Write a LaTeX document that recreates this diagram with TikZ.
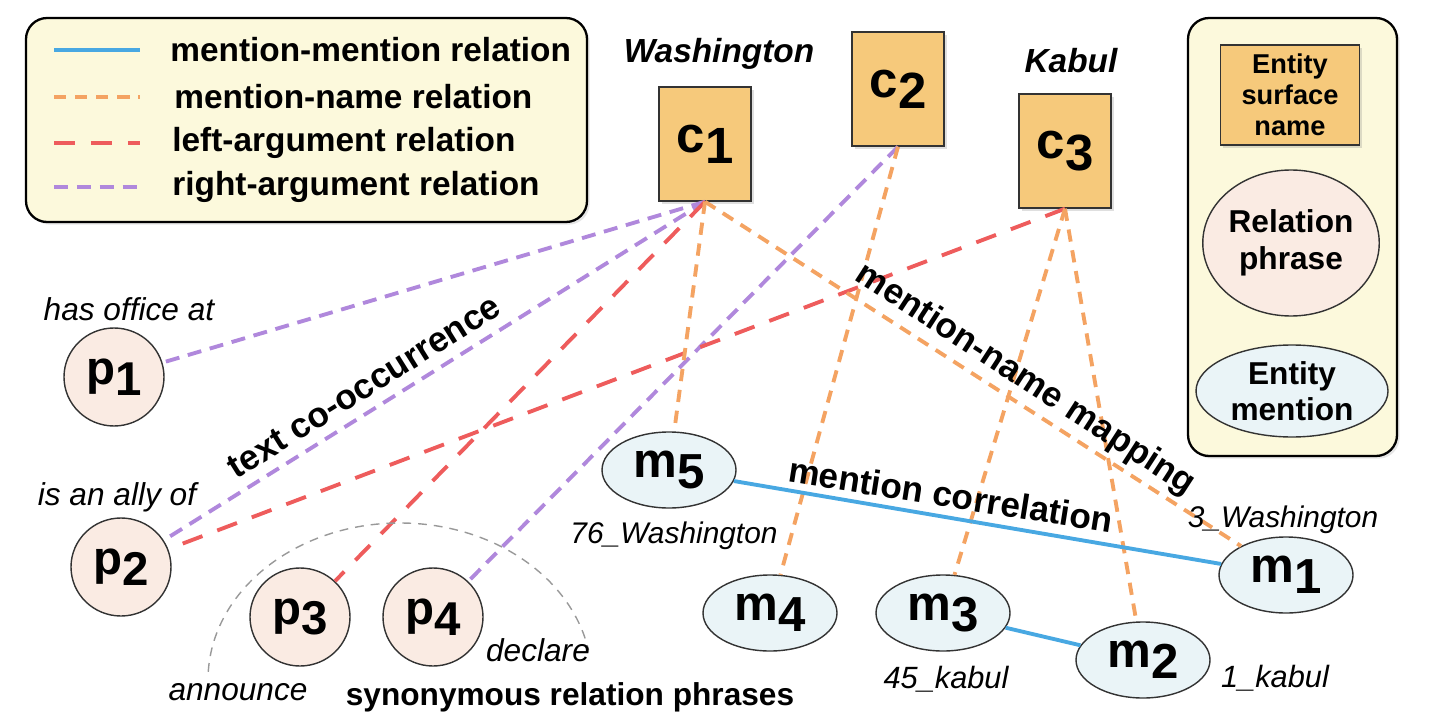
\documentclass[tikz,border=0pt]{standalone}
\usepackage{fontspec}
\setmainfont{Liberation Sans}
\usetikzlibrary{shapes.geometric,shadows}
\definecolor{entfill}{RGB}{246,201,123}
\definecolor{relfill}{RGB}{250,235,227}
\definecolor{menfill}{RGB}{234,244,247}
\definecolor{keyfill}{RGB}{252,249,220}
\definecolor{mmcol}{RGB}{72,168,226}
\definecolor{mncol}{RGB}{244,163,98}
\definecolor{lacol}{RGB}{238,92,92}
\definecolor{racol}{RGB}{176,136,220}
\newcommand{\lblsub}[2]{#1\raisebox{-0.22em}{#2}}
\begin{document}
\begin{tikzpicture}[
  key/.style={draw=black, line width=1.3pt, rounded corners=12pt, fill=keyfill, drop shadow={opacity=0.2, shadow xshift=1.5pt, shadow yshift=-1.5pt}},
  keytxt/.style={anchor=west, inner sep=0pt, font=\fontsize{19}{22}\selectfont\bfseries},
  ent/.style={draw=black!80, line width=0.8pt, fill=entfill, minimum width=1.84cm, minimum height=2.28cm, inner sep=0pt, align=center, font=\fontsize{29}{30}\selectfont\bfseries, drop shadow={opacity=0.25, shadow xshift=1.5pt, shadow yshift=-1.5pt}},
  rel/.style={ellipse, draw=black!80, line width=0.8pt, fill=relfill, minimum width=2.0cm, minimum height=1.96cm, inner sep=0pt, align=center, font=\fontsize{27}{28}\selectfont\bfseries},
  men/.style={ellipse, draw=black!80, line width=0.8pt, fill=menfill, minimum width=2.68cm, minimum height=1.52cm, inner sep=0pt, align=center, font=\fontsize{28}{29}\selectfont\bfseries},
  cname/.style={font=\fontsize{19}{22}\selectfont\bfseries\itshape},
  note/.style={font=\fontsize{18}{20}\selectfont\itshape},
  tag/.style={font=\fontsize{20}{22}\selectfont\bfseries},
  mm/.style={draw=mmcol, line width=2.2pt},
  mn/.style={draw=mncol, line width=2.2pt, dash pattern=on 7pt off 5pt},
  la/.style={draw=lacol, line width=2.2pt, dash pattern=on 12pt off 9pt},
  ra/.style={draw=racol, line width=2.2pt, dash pattern=on 8pt off 5pt},
  syn/.style={draw=gray!80, line width=0.8pt, dash pattern=on 5pt off 4pt}
]
\useasboundingbox (0,0) rectangle (28.7,14.28);
\node[key, minimum width=11.22cm, minimum height=4.08cm] (keyl) at (6.13,11.88) {};
\node[key, minimum width=4.18cm, minimum height=8.76cm] (keyr) at (25.85,9.54) {};
\draw[mm] (1.08,13.28) -- (2.80,13.28);
\draw[mn] (1.08,12.34) -- (2.80,12.34);
\draw[la] (1.08,11.42) -- (2.80,11.42);
\draw[ra] (1.08,10.54) -- (2.80,10.54);
\node[keytxt] (kmm) at (3.40,13.28) {mention-mention relation};
\node[keytxt] (kmn) at (3.48,12.34) {mention-name relation};
\node[keytxt] (kla) at (3.44,11.42) {left-argument relation};
\node[keytxt] (kra) at (3.44,10.54) {right-argument relation};
\node[ent, minimum width=2.78cm, minimum height=2.0cm, font=\fontsize{15.5}{17.6}\selectfont\bfseries] (kent) at (25.80,12.38) {Entity\\surface\\name};
\node[rel, minimum width=3.12cm, minimum height=2.92cm, font=\fontsize{18}{21}\selectfont\bfseries] (krel) at (25.82,9.42) {Relation\\phrase};
\node[men, minimum width=3.84cm, minimum height=1.84cm, font=\fontsize{18}{20.5}\selectfont\bfseries] (kmen) at (25.84,6.46) {Entity\\mention};
\node[ent] (c1) at (14.10,11.40) {\lblsub{c}{1}};
\node[ent] (c2) at (17.96,12.50) {\lblsub{c}{2}};
\node[ent] (c3) at (21.30,11.26) {\lblsub{c}{3}};
\node[cname] (wash) at (14.38,13.20) {Washington};
\node[cname] (kab) at (21.42,13.06) {Kabul};
\node[rel] (p1) at (2.28,6.74) {\lblsub{p}{1}};
\node[rel] (p2) at (2.42,2.94) {\lblsub{p}{2}};
\node[rel] (p3) at (6.00,1.94) {\lblsub{p}{3}};
\node[rel] (p4) at (8.66,1.94) {\lblsub{p}{4}};
\node[men] (m5) at (13.38,4.88) {\lblsub{m}{5}};
\node[men] (m4) at (15.40,2.02) {\lblsub{m}{4}};
\node[men] (m3) at (18.86,2.02) {\lblsub{m}{3}};
\node[men] (m2) at (22.86,1.08) {\lblsub{m}{2}};
\node[men] (m1) at (25.72,2.78) {\lblsub{m}{1}};
\draw[ra] (c1.south) -- (p1);
\draw[ra] (c1.south) -- (p2);
\draw[ra] (c2.south) -- (p4);
\draw[la] (c1.south) -- (p3);
\draw[la] (c3.south) -- (p2);
\draw[mn] (c1.south) -- (m5);
\draw[mn] (c1.south) -- (m1);
\draw[mn] (c2.south) -- (m4);
\draw[mn] (c3.south) -- (m3);
\draw[mn] (c3.south) -- (m2);
\draw[mm] (m5) -- (m1);
\draw[mm] (m3) -- (m2);
\coordinate (syc) at (8.00,0.68);
\draw[syn] (syc) ++(177:3.84cm and 3.14cm) arc[start angle=177, end angle=11, x radius=3.84cm, y radius=3.14cm];
\node[note] (np1) at (2.58,8.10) {has office at};
\node[note] (np2) at (2.34,4.34) {is an ally of};
\node[note] (np3) at (4.76,0.44) {announce};
\node[note] (np4) at (10.76,1.28) {declare};
\node[tag, font=\fontsize{18}{20}\selectfont\bfseries] (syntxt) at (11.40,0.34) {synonymous relation phrases};
\node[note, font=\fontsize{17}{20}\selectfont\itshape] (nm5) at (13.48,3.56) {76\_Washington};
\node[note, font=\fontsize{17}{20}\selectfont\itshape] (nm1) at (25.66,3.88) {3\_Washington};
\node[note, font=\fontsize{17.5}{20}\selectfont\itshape] (nm3) at (18.92,0.70) {45\_kabul};
\node[note, font=\fontsize{17.5}{20}\selectfont\itshape] (nm2) at (25.50,0.72) {1\_kabul};
\node[tag, rotate=32] (cooc) at (7.28,6.54) {text co-occurrence};
\node[tag, rotate=-33] (mnmap) at (20.50,6.68) {mention-name mapping};
\node[tag, rotate=-9] (mcor) at (19.02,4.38) {mention correlation};
\end{tikzpicture}
\end{document}
